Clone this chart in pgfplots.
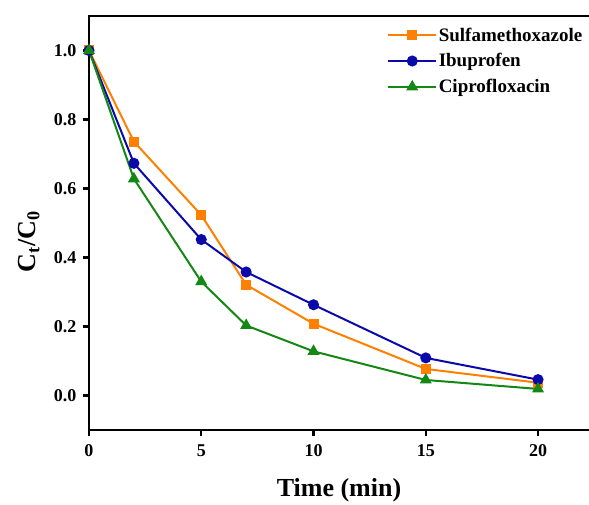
\documentclass[border=0pt]{standalone}
\usepackage{fontspec}
\setmainfont{Liberation Serif}
\usepackage{pgfplots}
\pgfplotsset{compat=1.18}
\usetikzlibrary{calc}

\definecolor{smxorange}{RGB}{255,128,0}
\definecolor{ibublue}{RGB}{10,10,170}
\definecolor{cipgreen}{RGB}{20,135,20}

\begin{document}
\begin{tikzpicture}
  \begin{axis}[
    scale only axis, width=500pt, height=414pt,
    xmin=0, xmax=22.27, ymin=-0.1, ymax=1.1,
    axis x line*=box, axis y line*=left,
    axis line style={-, line width=2.5pt, line cap=rect},
    tick pos=left, tick align=outside,
    major tick length=6pt,
    tick style={line width=2.2pt, black},
    xtick={0,5,10,15,20},
    ytick={0,0.2,0.4,0.6,0.8,1.0},
    /pgf/number format/assume math mode=true,
    tick label style={font=\fontsize{18}{21}\selectfont\bfseries},
    xticklabel style={yshift=-5pt},
    yticklabel style={xshift=-3pt, /pgf/number format/.cd, fixed, fixed zerofill, precision=1},
    xlabel={Time (min)},
    ylabel={C\textsubscript{t}/C\textsubscript{0}},
    label style={font=\fontsize{26}{30}\selectfont\bfseries},
    xlabel style={at={(axis description cs:0.5,-0.145)}, anchor=center},
    ylabel style={at={(axis description cs:-0.12,0.455)}, anchor=center},
    legend style={at={(1,1)}, anchor=north east, xshift=-2pt, yshift=-8pt,
      draw=none, fill=none, font=\fontsize{19}{22}\selectfont\bfseries,
      row sep=8pt, nodes={inner sep=1.5pt}},
    legend cell align=left,
    legend image code/.code={
      \draw[mark repeat=2, mark phase=2] plot coordinates {(0pt,0pt) (24pt,0pt) (48pt,0pt)};},
    every axis plot/.append style={line width=2pt},
  ]
  \addplot[color=smxorange, mark=square*, mark size=4pt, mark options={solid, fill=smxorange}]
    coordinates {(0,1.0)(2,0.736)(5,0.523)(7,0.321)(10,0.208)(15,0.077)(20,0.037)};
  \addlegendentry{Sulfamethoxazole}
  \addplot[color=ibublue, mark=*, mark size=4.5pt, mark options={solid, fill=ibublue}]
    coordinates {(0,1.0)(2,0.673)(5,0.452)(7,0.358)(10,0.263)(15,0.109)(20,0.046)};
  \addlegendentry{Ibuprofen}
  \addplot[color=cipgreen, mark=triangle*, mark size=5pt, mark options={solid, fill=cipgreen}]
    coordinates {(0,1.0)(2,0.628)(5,0.330)(7,0.203)(10,0.128)(15,0.045)(20,0.019)};
  \addlegendentry{Ciprofloxacin}
  \coordinate (bl) at (rel axis cs:0,0);
  \coordinate (tr) at (rel axis cs:1,1);
  \end{axis}
  \pgfresetboundingbox
  \path[use as bounding box] ($(bl)+(-89pt,-74pt)$) rectangle ($(tr)+(0pt,16pt)$);
\end{tikzpicture}
\end{document}
